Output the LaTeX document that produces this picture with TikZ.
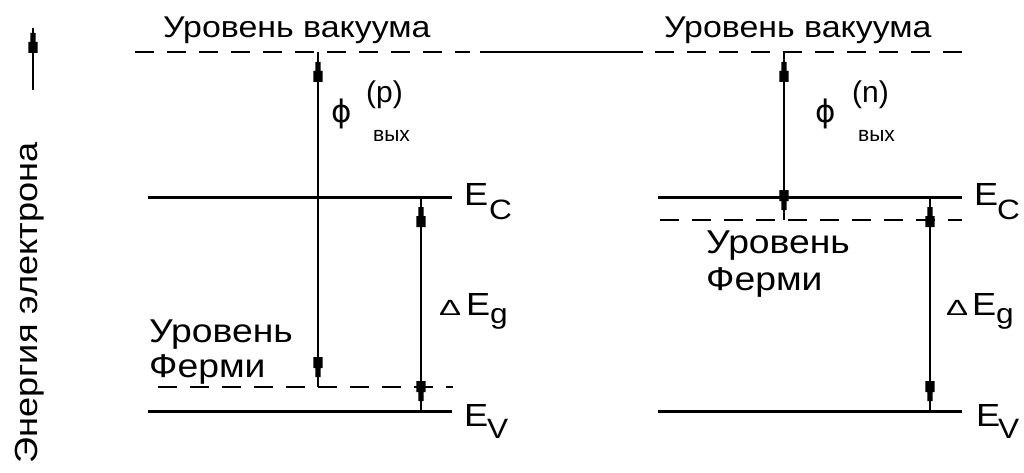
\documentclass[tikz,border=0pt]{standalone}
\usepackage{fontspec}
\usepackage{graphicx}
\setmainfont{Liberation Sans}
\newfontfamily\wide[FakeStretch=1.13]{Liberation Sans}
\newfontfamily\dvs{DejaVu Sans}
\usetikzlibrary{decorations.markings}
\newcommand\tipblock{(0pt,-2.6pt) -- (0pt,2.6pt) -- (-9pt,2.6pt) -- (-9pt,4.6pt) -- (-20pt,4.6pt) -- (-20pt,-4.6pt) -- (-9pt,-4.6pt) -- (-9pt,-2.6pt) -- cycle}
\tikzset{
  level/.style={line width=3pt},
  dashlevel/.style={line width=1.4pt, dash pattern=on 19pt off 13pt},
  conn/.style={line width=1.3pt},
  endtip/.style={postaction={decorate,decoration={markings,
      mark=at position 1 with {\fill[shift={(-#1,0pt)}] \tipblock;}}}},
  bothtips/.style={postaction={decorate,decoration={markings,
      mark=at position 0 with {\fill[shift={(#1,0pt)},xscale=-1] \tipblock;},
      mark=at position 1 with {\fill[shift={(-#1,0pt)}] \tipblock;}}}},
  lbl/.style={inner sep=0pt, anchor=base west, font=\wide\fontsize{#1}{#1}\selectfont},
  lbl/.default=30,
  lbln/.style={inner sep=0pt, anchor=base west, font=\rmfamily\fontsize{#1}{#1}\selectfont},
  phil/.style={inner sep=0pt, anchor=base west, font=\dvs\fontsize{31}{31}\selectfont}
}
\begin{document}
\begin{tikzpicture}[x=1pt,y=-1pt]
\useasboundingbox (0,0) rectangle (1024,473);
% axis
\coordinate (ax0) at (33,90);
\coordinate (ax1) at (33,28);
\draw[conn,endtip=5pt] (ax0) -- (ax1);
\node[inner sep=0pt, rotate=90, anchor=base, font=\wide\fontsize{32}{32}\selectfont] (axlbl) at (37,303) {Энергия электрона};
% vacuum level
\coordinate (vacL0) at (135,52);
\coordinate (vacL1) at (470,52);
\coordinate (vacM0) at (480,52);
\coordinate (vacM1) at (643,52);
\coordinate (vacR0) at (655,52);
\coordinate (vacR1) at (965,52);
\draw[dashlevel] (vacL0) -- (vacL1);
\draw[conn] (vacM0) -- (vacM1);
\draw[dashlevel] (vacR0) -- (vacR1);
\node[lbl] (vacLt) at (163,38) {Уровень вакуума};
\node[lbl] (vacRt) at (664,38) {Уровень вакуума};
% left levels
\coordinate (ecL0) at (148,197); \coordinate (ecL1) at (452,197);
\coordinate (evL0) at (148,411); \coordinate (evL1) at (452,411);
\coordinate (efL0) at (158,387); \coordinate (efL1) at (453,387);
\draw[level] (ecL0) -- (ecL1);
\draw[level] (evL0) -- (evL1);
\draw[dashlevel] (efL0) -- (efL1);
% right levels
\coordinate (ecR0) at (658,197); \coordinate (ecR1) at (962,197);
\coordinate (evR0) at (658,411); \coordinate (evR1) at (962,411);
\coordinate (efR0) at (660,220); \coordinate (efR1) at (962,220);
\draw[level] (ecR0) -- (ecR1);
\draw[level] (evR0) -- (evR1);
\draw[dashlevel] (efR0) -- (efR1);
% arrows
\coordinate (phiLa) at (318,52); \coordinate (phiLb) at (318,387);
\coordinate (egLa) at (421,197); \coordinate (egLb) at (421,411);
\coordinate (phiRa) at (784,52); \coordinate (phiRb) at (784,220);
\coordinate (egRa) at (930,197); \coordinate (egRb) at (930,411);
\draw[conn,bothtips=10pt] (phiLa) -- (phiLb);
\draw[conn,bothtips=10pt] (egLa) -- (egLb);
\draw[conn,bothtips=10pt] (phiRa) -- (phiRb);
\draw[conn,bothtips=10pt] (egRa) -- (egRb);
% phi labels
\node[phil] (phiL) at (331,123) {ϕ};
\node[lbln=30] (phiLs) at (366,103) {(p)};
\node[lbln=21] (phiLi) at (373,142) {вых};
\node[phil] (phiR) at (815,123) {ϕ};
\node[lbln=30] (phiRs) at (852,103) {(n)};
\node[lbln=21] (phiRi) at (858,142) {вых};
% E labels left
\node[lbl=32] (EcL) at (464,205) {E};
\node[lbl=28] (EcLs) at (489,219) {C};
\node[lbln=22] (dL) at (439,315) {\scalebox{1.5}[1]{Δ}};
\node[lbl=32] (EgL) at (466,315) {E};
\node[lbl=28] (EgLs) at (490,323) {g};
\node[lbl=32] (EvL) at (464,426) {E};
\node[lbl=28] (EvLs) at (487,438) {V};
% E labels right
\node[lbl=32] (EcR) at (974,205) {E};
\node[lbl=28] (EcRs) at (997,219) {C};
\node[lbln=22] (dR) at (946,315) {\scalebox{1.5}[1]{Δ}};
\node[lbl=32] (EgR) at (972,315) {E};
\node[lbl=28] (EgRs) at (996,323) {g};
\node[lbl=32] (EvR) at (976,426) {E};
\node[lbl=28] (EvRs) at (998,438) {V};
% Fermi labels
\node[lbl=33] (fL1) at (149,342) {Уровень};
\node[lbl=33] (fL2) at (149,377) {Ферми};
\node[lbl=33] (fR1) at (706,253) {Уровень};
\node[lbl=33] (fR2) at (706,290) {Ферми};
\end{tikzpicture}
\end{document}
